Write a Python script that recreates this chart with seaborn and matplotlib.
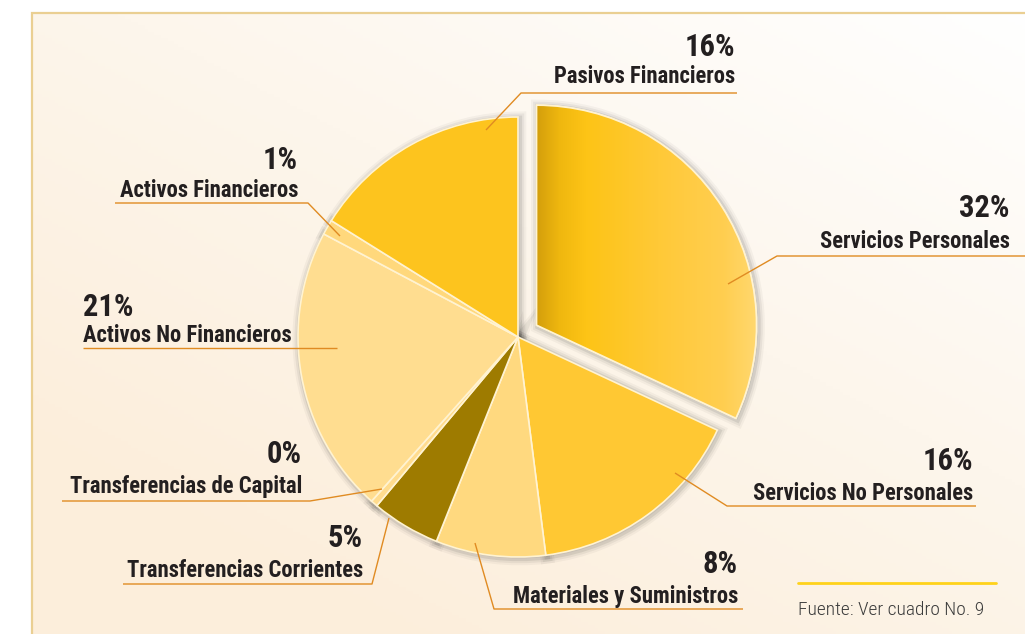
import numpy as np
import matplotlib
matplotlib.use('Agg')
import matplotlib.pyplot as plt
import matplotlib.patheffects as pe
import seaborn as sns
from matplotlib.colors import LinearSegmentedColormap
from matplotlib.patches import Wedge
from matplotlib import font_manager as fm


# slice shares (%), clockwise from 12 o'clock
categories = [
    'Servicios Personales', 'Servicios No Personales', 'Materiales y Suministros',
    'Transferencias Corrientes', 'Transferencias de Capital', 'Activos No Financieros',
    'Activos Financieros', 'Pasivos Financieros',
]
shares = [31.7, 15.9, 8.0, 5.0, 0.5, 21.0, 1.1, 16.0]
pct_labels = ['32%', '16%', '8%', '5%', '0%', '21%', '1%', '16%']
slice_colors = ['#FDC52A', '#FFC833', '#FFD97F', '#9E7B00',
                '#FFDC8E', '#FFDD90', '#FFD87C', '#FDC41E']
explode = [0.1, 0, 0, 0, 0, 0, 0, 0]
source_note = 'Fuente: Ver cuadro No. 9'

# label layout in pixel coords: text x, alignment, baselines, underline (outer x, inner x, y), leader tip
label_layout = {
    'Servicios Personales':      (1010, 'right', 217, 248, (1025, 777, 256), (728, 284)),
    'Servicios No Personales':   (973, 'right', 470, 500, (976, 727, 506), (675, 473)),
    'Materiales y Suministros':  (738, 'right', 573, 603, (743, 494, 609), (475, 543)),
    'Transferencias Corrientes': (363, 'right', 547, 577, (123, 372, 584), (389, 518)),
    'Transferencias de Capital': (302, 'right', 463, 493, (62, 310, 501), (382, 489)),
    'Activos No Financieros':    (83, 'left', 316, 342, (83, 337, 348), None),
    'Activos Financieros':       (298, 'right', 169, 197, (115, 308, 203), (340, 236)),
    'Pasivos Financieros':       (735, 'right', 56, 83, (737, 521, 93), (486, 130)),
}

W, H = 1025, 634
CENTER = (518, 337)
RADIUS = 220

sns.set_theme(style='white')
avail = {f.name for f in fm.fontManager.ttflist}
label_font = 'Liberation Sans'
for cand in ['Liberation Sans Narrow', 'Roboto Condensed', 'Open Sans Condensed']:
    if cand in avail:
        label_font = cand
        break
plt.rcParams['font.family'] = [label_font, 'DejaVu Sans']

fig = plt.figure(figsize=(W / 100, H / 100), dpi=100)
fig.patch.set_facecolor('white')
ax = fig.add_axes([0, 0, 1, 1])

# panel background: white top-right fading to cream bottom-left
xx, yy = np.meshgrid(np.linspace(32, W, 300), np.linspace(13, H, 200))
t = np.clip(((W - xx) / W) * 0.55 + (yy / H) * 0.65, 0, 1)
bg_cmap = LinearSegmentedColormap.from_list('bg', ['#FFFFFF', '#FDF6EC', '#FCEEDB'])
ax.imshow(t, extent=(32, W, H, 13), origin='upper', cmap=bg_cmap, vmin=0, vmax=1,
          aspect='auto', zorder=0)
ax.plot([32, 32, W], [H, 13, 13], color='#EACF92', lw=1.6, zorder=1, solid_joinstyle='miter')

# pie.explode is in data units, so scale the fractions by the radius
wedges, _ = ax.pie(
    shares, colors=sns.color_palette(slice_colors),
    explode=[e * RADIUS for e in explode],
    startangle=-90, counterclock=True, center=CENTER, radius=RADIUS,
    wedgeprops=dict(edgecolor='#FFF3D2', linewidth=1.2),
)

# soft shadow under the pie, nudged down-right
halo = [pe.Stroke(offset=(1, -1), linewidth=10, foreground='black', alpha=0.035),
        pe.Stroke(offset=(1, -1), linewidth=7, foreground='black', alpha=0.05),
        pe.Stroke(offset=(1, -1), linewidth=4, foreground='black', alpha=0.08)]
for w in wedges:
    w.set_zorder(3)
    sh = Wedge(w.center, w.r, w.theta1, w.theta2, facecolor='#999999',
               edgecolor='#999999', zorder=2)
    sh.set_path_effects(halo)
    ax.add_patch(sh)

# horizontal gradient on the pulled-out slice
w0 = wedges[0]
grad_cmap = LinearSegmentedColormap.from_list('sp', [
    (0.0, '#D49F0C'), (0.1, '#EFB70F'), (0.22, '#FDC416'),
    (0.55, '#FFC937'), (0.85, '#FFCE50'), (1.0, '#FFD86F')])
cx, cy = w0.center
im = ax.imshow(np.linspace(0, 1, 256)[None, :], extent=(cx, cx + RADIUS, cy + RADIUS, cy - RADIUS),
               cmap=grad_cmap, aspect='auto', zorder=3.5)
im.set_clip_path(w0)
ax.add_patch(Wedge(w0.center, w0.r, w0.theta1, w0.theta2, facecolor='none',
                   edgecolor='#FFF3D2', linewidth=1.2, zorder=3.6))

# labels with underline and leader
line_color = '#E08B22'
text_color = '#231F20'
for cat, pct in zip(categories, pct_labels):
    x, ha, y_pct, y_name, (x_out, x_in, y_line), tip = label_layout[cat]
    ax.text(x, y_pct, pct, ha=ha, va='baseline', fontsize=22, fontweight='bold',
            color=text_color, zorder=6)
    ax.text(x, y_name, cat, ha=ha, va='baseline', fontsize=16.3, fontweight='bold',
            color=text_color, zorder=6)
    xs, ys = [x_out, x_in], [y_line, y_line]
    if tip is not None:
        xs.append(tip[0])
        ys.append(tip[1])
    ax.plot(xs, ys, color=line_color, lw=1.0, zorder=5, solid_capstyle='butt')

# source note
ax.plot([798, 996], [583, 583], color='#FFD21A', lw=2.0, zorder=5)
ax.text(798, 615, source_note, ha='left', va='baseline', fontsize=14,
        fontweight='light', color='#3C3C3C', zorder=6)

ax.set_xlim(0, W)
ax.set_ylim(H, 0)
ax.set_aspect('auto')
ax.axis('off')

fig.savefig('out.png', dpi=100, facecolor='white')
